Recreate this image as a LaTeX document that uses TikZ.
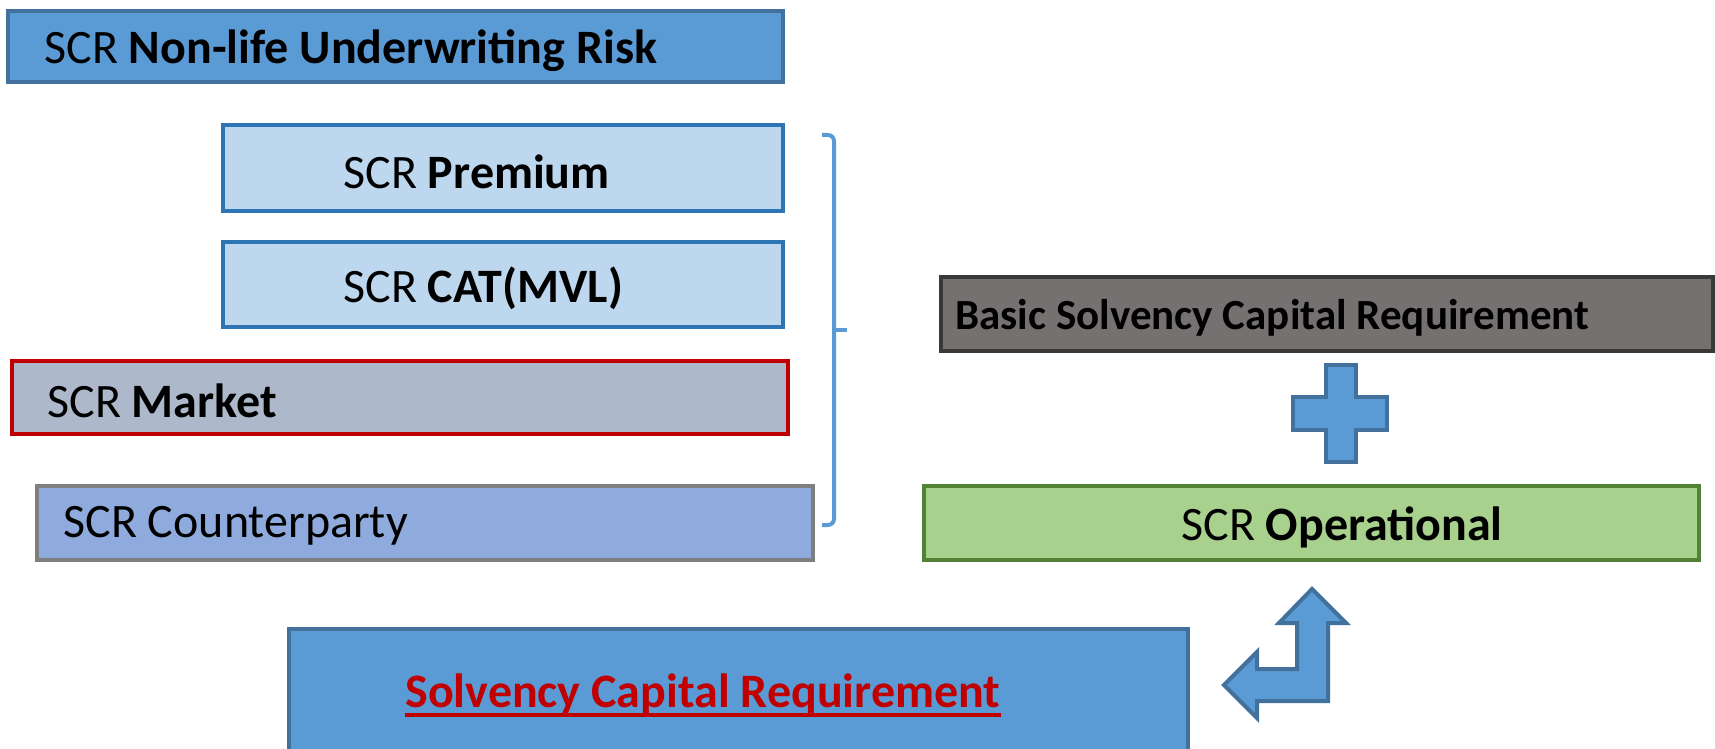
\documentclass[tikz,border=0pt]{standalone}
\usepackage{fontspec}
\setmainfont{Carlito}
\definecolor{midblue}{HTML}{5B9BD5}
\definecolor{darkblue}{HTML}{41719C}
\definecolor{paleblue}{HTML}{BDD7EE}
\definecolor{lineblue}{HTML}{2E75B6}
\definecolor{greyblue}{HTML}{ADB9CA}
\definecolor{darkred}{HTML}{C00000}
\definecolor{softblue}{HTML}{8FAADC}
\definecolor{midgrey}{HTML}{7F7F7F}
\definecolor{stone}{HTML}{767171}
\definecolor{darkstone}{HTML}{3B3838}
\definecolor{leaf}{HTML}{A9D18E}
\definecolor{darkleaf}{HTML}{538135}
\tikzset{
  riskbox/.style={draw, line width=2pt, inner sep=0pt},
  lbl/.style={anchor=west, inner sep=0pt, font=\fontsize{24}{28}\selectfont},
  shapeblue/.style={draw=darkblue, fill=midblue, line width=2pt, line join=miter}
}
\begin{document}
\begin{tikzpicture}[x=0.5pt,y=-0.5pt]
\useasboundingbox (0,0) rectangle (1715,749);
\clip (0,0) rectangle (1715,749);

\node[riskbox, draw=darkblue, fill=midblue, minimum width=387.5pt, minimum height=35.5pt] (nonlife) at (395.5,46.5) {};
\node[riskbox, draw=lineblue, fill=paleblue, minimum width=280pt, minimum height=43pt] (premium) at (503,168) {};
\node[riskbox, draw=lineblue, fill=paleblue, minimum width=280pt, minimum height=42.5pt] (cat) at (503,284.5) {};
\node[riskbox, draw=darkred, fill=greyblue, minimum width=388pt, minimum height=36.5pt] (market) at (400,397.5) {};
\node[riskbox, draw=midgrey, fill=softblue, minimum width=388pt, minimum height=37pt] (counterparty) at (425,523) {};
\node[riskbox, draw=darkstone, fill=stone, minimum width=386pt, minimum height=37pt] (basic) at (1327,314) {};
\node[riskbox, draw=darkleaf, fill=leaf, minimum width=387.5pt, minimum height=37pt] (operational) at (1311.5,523) {};
\node[riskbox, draw=darkblue, fill=midblue, minimum width=449.5pt, minimum height=80.5pt] (scr) at (738.5,709.5) {};

\node[lbl] (nonlifetxt) at (44,51) {SCR \textbf{Non-life Underwriting Risk}};
\node[lbl] (premiumtxt) at (343,172) {SCR \textbf{Premium}};
\node[lbl] (cattxt) at (343,288) {SCR \textbf{CAT(MVL)}};
\node[lbl] (markettxt) at (47,401) {SCR \textbf{Market}};
\node[lbl] (counterpartytxt) at (63,526) {SCR Counterparty};
\node[lbl, font=\fontsize{21.5}{26}\selectfont] (basictxt) at (955,318) {\textbf{Basic Solvency Capital Requirement}};
\node[lbl] (operationaltxt) at (1181,527) {SCR \textbf{Operational}};
\node[lbl, text=darkred] (scrtxt) at (405,694) {\textbf{Solvency Capital Requirement}};
\draw[darkred, line width=2pt] ([yshift=-4pt]scrtxt.base west) -- ([yshift=-4pt]scrtxt.base east);

\draw[midblue, line width=2pt, rounded corners=3pt] (822,135) -- (834,135) -- (834,525) -- (822,525);
\draw[midblue, line width=2pt] (834,330) -- (847,330);

\draw[shapeblue] (1326,365) -- (1356,365) -- (1356,397) -- (1387,397) -- (1387,430) -- (1356,430)
  -- (1356,462) -- (1326,462) -- (1326,430) -- (1293,430) -- (1293,397) -- (1326,397) -- cycle;

\draw[shapeblue] (1312,589) -- (1346,623) -- (1328,623) -- (1328,701) -- (1257,701) -- (1257,718)
  -- (1224,685) -- (1257,652) -- (1257,669) -- (1297,669) -- (1297,623) -- (1279,623) -- cycle;
\end{tikzpicture}
\end{document}
